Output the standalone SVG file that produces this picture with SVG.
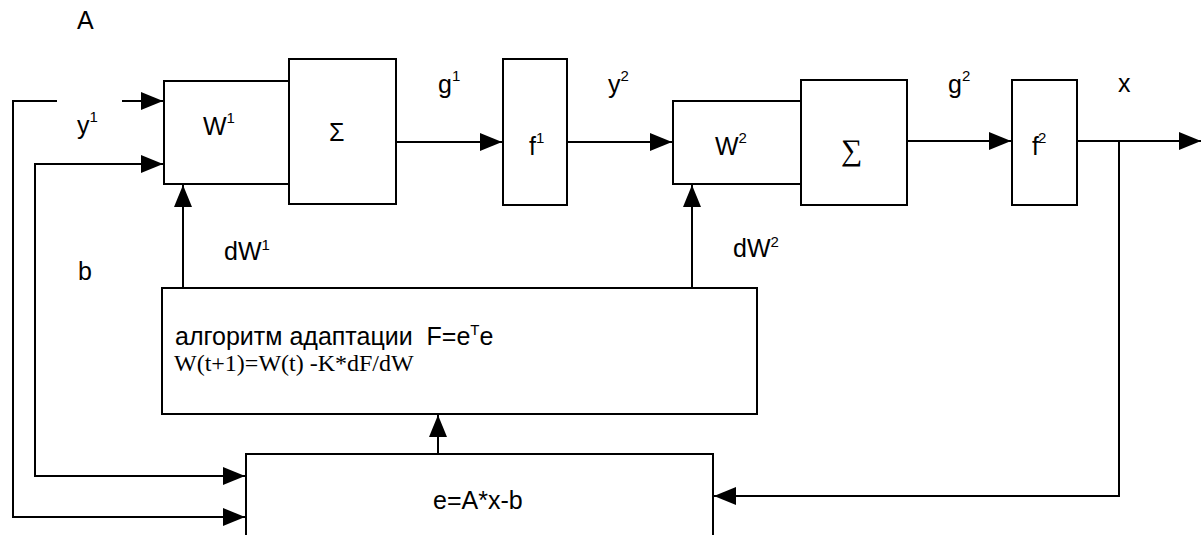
<svg xmlns="http://www.w3.org/2000/svg" width="1201" height="535" viewBox="0 0 1201 535">
<defs>
<marker id="arr" markerWidth="22" markerHeight="18" refX="22" refY="9" orient="auto" markerUnits="userSpaceOnUse"><path d="M0,0 L22,9 L0,18 Z" fill="#000"/></marker>
</defs>
<style>
.box{fill:#fff;stroke:#000;stroke-width:2}
.ln{fill:none;stroke:#000;stroke-width:2}
.t{font-family:"Liberation Sans",Arial,sans-serif;font-size:25px;fill:#000}
.s{font-size:15px}
.tm{font-family:"Liberation Serif","Times New Roman",serif;fill:#000}
</style>
<rect width="1201" height="535" fill="#fff"/>
<g id="connectors">
<polyline class="ln" points="57,101 13,101 13,517 245,517" marker-end="url(#arr)"/>
<line class="ln" x1="122" y1="101" x2="163" y2="101" marker-end="url(#arr)"/>
<polyline class="ln" points="163,164 35,164 35,476 245,476" marker-end="url(#arr)"/>
<polyline class="ln" points="35,164 163,164" marker-end="url(#arr)"/>
<line class="ln" x1="396" y1="142" x2="502" y2="142" marker-end="url(#arr)"/>
<line class="ln" x1="567" y1="142" x2="672" y2="142" marker-end="url(#arr)"/>
<line class="ln" x1="907" y1="141" x2="1011" y2="141" marker-end="url(#arr)"/>
<line class="ln" x1="1077" y1="141" x2="1201" y2="141" marker-end="url(#arr)"/>
<polyline class="ln" points="1119,141 1119,496 714,496" marker-end="url(#arr)"/>
<line class="ln" x1="438" y1="454" x2="438" y2="415" marker-end="url(#arr)"/>
<line class="ln" x1="183" y1="288" x2="183" y2="185" marker-end="url(#arr)"/>
<line class="ln" x1="692" y1="288" x2="692" y2="185" marker-end="url(#arr)"/>
</g>
<g id="labels">
<text class="t" x="77" y="29">A</text>
<text class="t" x="77" y="134">y<tspan class="s" dy="-12">1</tspan></text>
<text class="t" x="438" y="93">g<tspan class="s" dy="-12">1</tspan></text>
<text class="t" x="608" y="93">y<tspan class="s" dy="-12">2</tspan></text>
<text class="t" x="948" y="93">g<tspan class="s" dy="-12">2</tspan></text>
<text class="t" x="1118" y="92">x</text>
<text class="t" x="224" y="260">dW<tspan class="s" dy="-10">1</tspan></text>
<text class="t" x="733" y="257">dW<tspan class="s" dy="-10">2</tspan></text>
<text class="t" x="78" y="280">b</text>
</g>
<g id="W1">
<rect class="box" x="164" y="81" width="125" height="103"/>
<text class="t" x="203" y="135">W<tspan class="s" dy="-12">1</tspan></text>
</g>
<g id="sum1">
<rect class="box" x="289" y="59" width="107" height="145"/>
<text class="t" x="329" y="141" font-size="28">Σ</text>
</g>
<g id="f1">
<rect class="box" x="503" y="59" width="64" height="146"/>
<text class="t" x="529" y="155">f<tspan class="s" dy="-12">1</tspan></text>
</g>
<g id="W2">
<rect class="box" x="673" y="101" width="128" height="83"/>
<text class="t" x="715" y="155">W<tspan class="s" dy="-12">2</tspan></text>
</g>
<g id="sum2">
<rect class="box" x="801" y="80" width="106" height="125"/>
<text class="tm" x="841" y="160" font-size="30">∑</text>
</g>
<g id="f2">
<rect class="box" x="1012" y="80" width="65" height="125"/>
<text class="t" x="1032" y="155">f<tspan class="s" dx="-1" dy="-12">2</tspan></text>
</g>
<g id="adapt">
<rect class="box" x="162" y="288" width="595" height="126"/>
<text class="t" x="175" y="345" font-size="22">алгоритм адаптации &#160;F=e<tspan class="s" dy="-10">T</tspan><tspan dy="10">e</tspan></text>
<text class="tm" x="174" y="371" font-size="24">W(t+1)=W(t) -K*dF/dW</text>
</g>
<g id="error">
<rect class="box" x="246" y="454" width="467" height="100"/>
<text class="t" x="433" y="509">e=A*x-b</text>
</g>
</svg>
